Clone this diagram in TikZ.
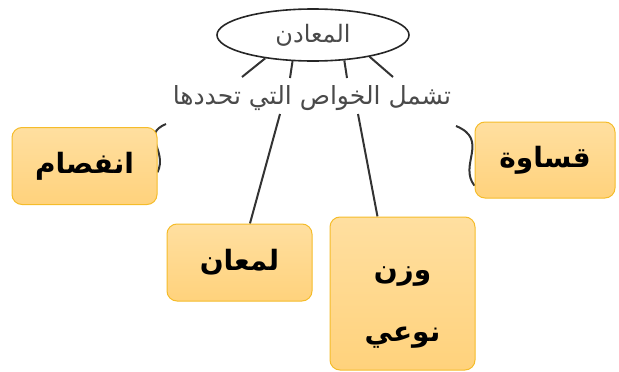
\documentclass[tikz,border=0pt]{standalone}
\usepackage{fontspec}
\usetikzlibrary{shapes.geometric,backgrounds}
\newfontfamily\arabicfont[Script=Arabic]{DejaVu Sans}
\TeXXeTstate=1
\definecolor{boxtop}{HTML}{FFDFA0}
\definecolor{boxbot}{HTML}{FFD27C}
\definecolor{boxline}{HTML}{F5BC2A}
\definecolor{inkgray}{HTML}{4A4A4A}

\begin{document}
\begin{tikzpicture}[
  x=1pt, y=-1pt,
  topic/.style = {ellipse, draw=black!85, line width=1.6pt,
    minimum width=192pt, minimum height=52pt, inner sep=0pt, text=inkgray,
    font=\arabicfont\fontsize{24}{27}\selectfont},
  linktext/.style = {text=inkgray, inner sep=0pt,
    font=\arabicfont\fontsize{25}{28}\selectfont},
  card/.style = {rectangle, rounded corners=10pt, draw=boxline, line width=1pt,
    top color=boxtop, bottom color=boxbot, minimum width=145pt,
    minimum height=77pt, align=center,
    font=\arabicfont\bfseries\fontsize{28}{32}\selectfont},
  link/.style = {draw=black!80, line width=2pt}
]
\useasboundingbox (0,0) rectangle (619,372);

\node[topic]    (minerals) at (313,35)  {\beginR المعادن\endR};
\node[linktext] (incl)     at (312,98)  {\beginR تشمل الخواص التي تحددها\endR};
\node[card]     (cleav)    at (84.5,166) {\beginR انفصام\endR};
\node[card, minimum width=140pt, minimum height=76pt]
                (hard)     at (545,160) {\beginR قساوة\endR};
\node[card]     (lustre)   at (239.5,262.5) {\beginR لمعان\endR};
\node[card, minimum height=153pt,
      font=\arabicfont\bfseries\fontsize{28}{62}\selectfont]
                (sg)       at (402.5,293.5)
                {\rule{0pt}{40pt}\beginR وزن\endR\\\beginR نوعي\endR};

% free ends of the connectors at the linking phrase
\coordinate (t1) at (242,77);
\coordinate (t2) at (290,78);
\coordinate (t3) at (347,78);
\coordinate (t4) at (393,77);
\coordinate (c1) at (166,124);
\coordinate (c2) at (280,114);
\coordinate (c3) at (358,114);
\coordinate (c4) at (456,126);

\begin{scope}[on background layer]
\draw[link] (minerals.206) -- (t1);
\draw[link] (minerals.232) -- (t2);
\draw[link] (minerals.321) -- (t3);
\draw[link] (minerals.339) -- (t4);
\draw[link] (c2) -- (lustre.75);
\draw[link] (c3) -- (sg.108);
\draw[link] (c1) .. controls (140,135) and (168,150) .. (cleav.-5);
\draw[link] (c4) .. controls (490,140) and (458,165) .. (hard.200);
\end{scope}
\end{tikzpicture}
\end{document}
